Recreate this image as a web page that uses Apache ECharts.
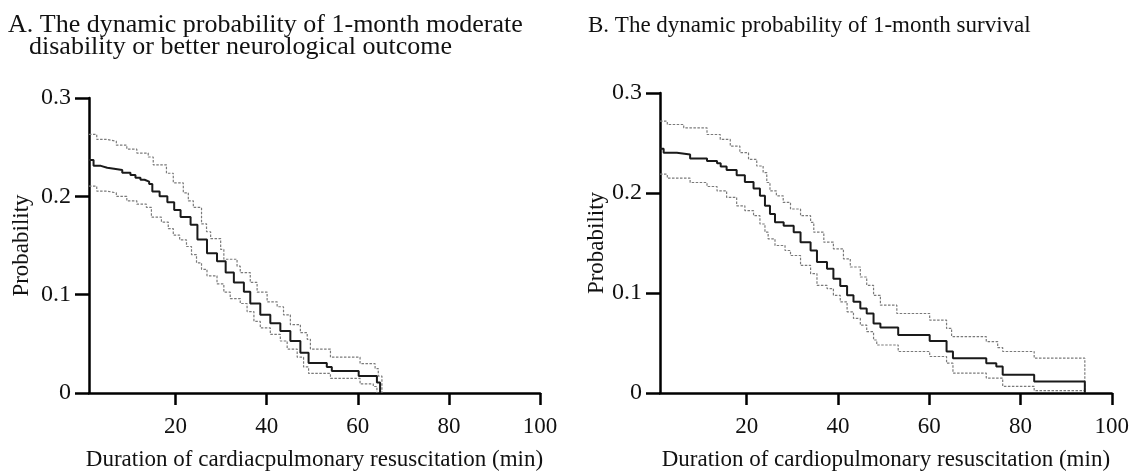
<!DOCTYPE html>
<html>
<head>
<meta charset="utf-8">
<script src="https://cdn.jsdelivr.net/npm/echarts@6/dist/echarts.min.js"></script>
<style>
  html, body { margin: 0; padding: 0; background: #fff; }
  #chart { width: 1132px; height: 476px; }
</style>
</head>
<body>
<div id="chart"></div>
<script>
// tick labels
const xTicks = [20, 40, 60, 80, 100];

// A. moderate disability or better — [minutes, probability]
const aMain = [[1,0.237],[2.0,0.231],[3.6,0.229],[5.0,0.228],[6.5,0.2268],[8.3,0.224],[10.1,0.2218],[11.2,0.219],
  [12.3,0.2169],[13.2,0.215],[14.2,0.2126],[14.9,0.205],[16.5,0.200],[18.2,0.194],[19.7,0.186],[21.1,0.179],
  [23.3,0.171],[24.8,0.156],[26.9,0.142],[29.1,0.134],[31.0,0.1225],[32.8,0.1125],[35.0,0.103],[36.4,0.091],
  [38.6,0.0795],[40.8,0.071],[43.0,0.063],[45.2,0.053],[47.4,0.041],[49.2,0.0305],[53.2,0.0265],[54.3,0.0225],
  [60.2,0.0172],[64.2,0.0106],[64.9,0]];
const aUpper = [[1,0.263],[2.7,0.258],[4.9,0.256],[7.0,0.252],[9.3,0.248],[11.5,0.244],[14.0,0.240],[15.1,0.232],
  [18.0,0.2235],[19.5,0.2136],[21.7,0.2036],[22.8,0.1954],[23.9,0.1887],[25.7,0.172],[26.8,0.164],[27.7,0.157],
  [29.9,0.146],[30.6,0.136],[33.5,0.129],[34.2,0.1225],[36.4,0.1125],[37.9,0.1026],[40.1,0.0927],[42.3,0.0877],
  [43.7,0.0795],[45.2,0.0695],[47.4,0.0613],[48.9,0.0546],[49.6,0.0447],[54.0,0.0364],[60.5,0.0298],[63.8,0.0248],
  [64.5,0.0172],[65.3,0]];
const aLower = [[1,0.2103],[2.7,0.2053],[4.9,0.2036],[7.0,0.200],[9.3,0.1954],[11.5,0.192],[13.6,0.1887],[14.7,0.1788],
  [16.9,0.1738],[18.4,0.1672],[19.5,0.1606],[20.9,0.1557],[22.4,0.149],[23.5,0.1407],[24.6,0.1324],[25.7,0.1258],
  [26.9,0.1192],[29.1,0.111],[30.6,0.1026],[32.0,0.096],[34.2,0.091],[35.7,0.0828],[37.2,0.0728],[38.6,0.0662],
  [40.8,0.0596],[43.0,0.0529],[44.5,0.0447],[46.7,0.0364],[48.1,0.0265],[49.2,0.0199],[54.0,0.0149],[60.5,0.0092],
  [63.4,0.0066],[64.2,0]];

// B. survival — [minutes, probability]
const bMain = [[1,0.2443],[1.8,0.2403],[4.7,0.2386],[7.6,0.2344],[11.3,0.232],[13.5,0.2297],[14.3,0.2264],[15.6,0.223],
  [17.8,0.2178],[19.6,0.2111],[21.5,0.2045],[22.9,0.1972],[24.0,0.1872],[25.1,0.179],[26.2,0.1707],[28.1,0.1673],
  [30.3,0.1608],[31.8,0.1508],[34.0,0.1425],[35.4,0.131],[37.6,0.1243],[39.0,0.1143],[40.5,0.107],[42.0,0.0977],
  [43.4,0.0912],[44.9,0.0845],[46.3,0.0795],[47.8,0.0696],[49.3,0.0656],[53.2,0.058],[60.1,0.052],[63.8,0.0415],
  [65.2,0.0348],[72.5,0.0298],[74.7,0.0265],[76.1,0.0182],[83.0,0.0116],[94.1,0]];
const bUpper = [[1,0.2718],[2.6,0.2685],[6.2,0.2652],[11.3,0.2585],[14.2,0.2536],[16.4,0.2469],[18.5,0.2403],[20.4,0.2337],
  [22.2,0.227],[23.6,0.2204],[24.4,0.2105],[25.1,0.2021],[26.5,0.1972],[28.0,0.1906],[29.6,0.184],[31.8,0.1773],
  [34.0,0.1707],[34.7,0.1608],[36.9,0.1508],[39.0,0.1442],[41.2,0.1342],[42.7,0.126],[44.9,0.116],[46.3,0.1077],
  [47.8,0.0977],[49.3,0.0878],[52.9,0.0795],[60.1,0.0729],[63.8,0.0646],[64.9,0.0564],[72.5,0.0514],[75.0,0.0454],
  [76.1,0.0415],[83.0,0.0348],[94.1,0]];
const bLower = [[1,0.2188],[2.6,0.2148],[7.6,0.2105],[11.3,0.2065],[13.5,0.2021],[15.6,0.1956],[17.8,0.1872],[19.6,0.1823],
  [21.5,0.1773],[22.9,0.169],[24.0,0.1608],[24.7,0.1541],[26.2,0.1475],[28.4,0.1425],[29.6,0.1375],[31.8,0.1276],
  [34.0,0.1193],[35.4,0.1077],[37.6,0.1044],[39.0,0.0977],[40.5,0.0912],[42.0,0.0812],[43.4,0.0746],[44.9,0.0679],
  [46.3,0.0613],[47.8,0.053],[48.5,0.048],[53.2,0.0415],[60.1,0.0365],[63.8,0.0298],[65.2,0.0199],[72.5,0.0149],
  [76.1,0.0067],[83.0,0.0023],[94.1,0]];

const font = 'Liberation Serif, Times New Roman, serif';
const chart = echarts.init(document.getElementById('chart'));

function xAxis(idx, name) {
  return {
    type: 'value', gridIndex: idx, min: 1, max: 100,
    name: name, nameLocation: 'middle', nameGap: 55,
    nameTextStyle: { fontFamily: font, fontSize: 23, color: '#111' },
    axisLine: { lineStyle: { color: '#000', width: 2.5 } },
    axisTick: { customValues: xTicks, length: 12, lineStyle: { color: '#000', width: 2.5 } },
    axisLabel: { customValues: xTicks, margin: 22, fontFamily: font, fontSize: 23, color: '#111' },
    splitLine: { show: false }
  };
}
function yAxis(idx, gap) {
  return {
    type: 'value', gridIndex: idx, min: 0, max: 0.3, interval: 0.1,
    name: 'Probability', nameLocation: 'middle', nameGap: gap,
    nameTextStyle: { fontFamily: font, fontSize: 23, color: '#111' },
    axisLine: { show: true, lineStyle: { color: '#000', width: 2.5 } },
    axisTick: { show: true, length: 14, lineStyle: { color: '#000', width: 2.5 } },
    axisLabel: { margin: 18, fontFamily: font, fontSize: 24, color: '#111' },
    splitLine: { show: false }
  };
}
function line(idx, data, main) {
  return {
    type: 'line', xAxisIndex: idx, yAxisIndex: idx, data: data, step: 'end',
    symbol: 'none', silent: true,
    lineStyle: main ? { color: '#1a1a1a', width: 2 } : { color: '#7a7a7a', width: 1.2, type: [2.5, 1.5] }
  };
}
const titleStyle = (size) => ({ fontFamily: font, fontSize: size, fontWeight: 'normal', color: '#111' });

chart.setOption({
  animation: false,
  title: [
    { text: 'A. The dynamic probability of 1-month moderate', left: 3, top: 7, textStyle: titleStyle(26) },
    { text: 'disability or better neurological outcome', left: 24, top: 29, textStyle: titleStyle(26) },
    { text: 'B. The dynamic probability of 1-month survival', left: 583, top: 9, textStyle: titleStyle(23) }
  ],
  grid: [
    { left: 89, top: 98, width: 451, height: 302 },
    { left: 660, top: 93, width: 453, height: 302 }
  ],
  xAxis: [
    xAxis(0, 'Duration of cardiacpulmonary resuscitation (min)'),
    xAxis(1, 'Duration of cardiopulmonary resuscitation (min)')
  ],
  yAxis: [yAxis(0, 56), yAxis(1, 51)],
  series: [
    line(0, aUpper, false), line(0, aLower, false), line(0, aMain, true),
    line(1, bUpper, false), line(1, bLower, false), line(1, bMain, true)
  ]
});
</script>
</body>
</html>
